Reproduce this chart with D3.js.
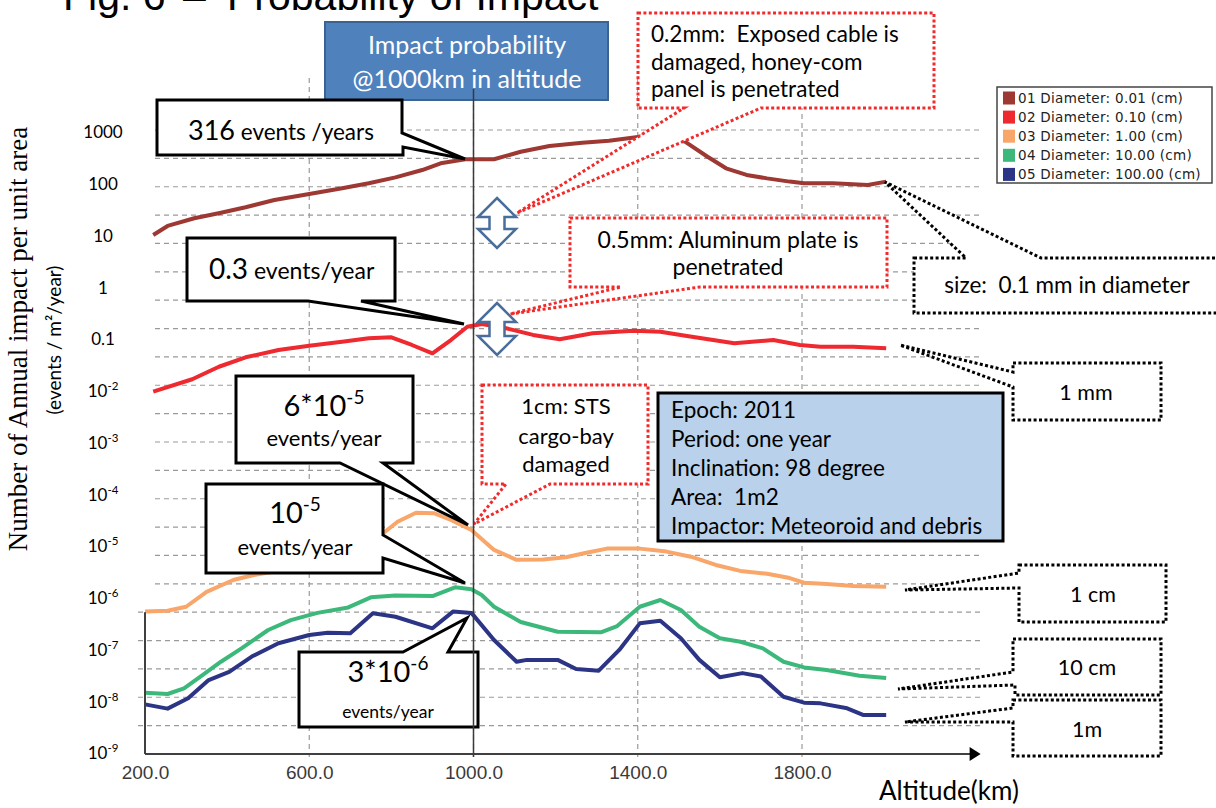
<!DOCTYPE html>
<html>
<head>
<meta charset="utf-8">
<script src="https://cdn.jsdelivr.net/npm/d3@7"></script>
<style>
  body { margin: 0; background: #fff; }
  svg { display: block; }
  text { font-family: Lato, "Open Sans", sans-serif; fill: #000; white-space: pre; }
</style>
</head>
<body>
<svg id="chart" width="1216" height="808"></svg>
<script>
// legend / series
const seriesNames = ["01 Diameter: 0.01 (cm)", "02 Diameter: 0.10 (cm)", "03 Diameter: 1.00 (cm)",
  "04 Diameter: 10.00 (cm)", "05 Diameter: 100.00 (cm)"];
const seriesColors = ["#9d3833", "#ee2a30", "#f9a66b", "#3cb87a", "#2c3585"];

// altitude (km) / annual impacts per m2
const alt01 = [220, 255, 320, 385, 445, 515, 600, 680, 745, 810, 875, 920, 980, 1050, 1115, 1185, 1265, 1330, 1405, 1455, 1515, 1570, 1615, 1665, 1715, 1770, 1805, 1875, 1960, 2005];
const val01 = [10.2, 15.3, 21.5, 27.6, 35.1, 48.5, 63.4, 81.7, 102, 133, 184, 248, 297, 297, 416, 536, 621, 679, 811, 856, 650, 333, 199, 148, 127, 110, 102, 102, 94.6, 110];

const alt02 = [220, 315, 380, 445, 525, 600, 680, 745, 800, 850, 900, 945, 985, 1020, 1080, 1145, 1210, 1290, 1390, 1455, 1520, 1635, 1730, 1795, 1845, 1925, 2005];
const val02 = [0.0096, 0.0167, 0.0291, 0.0443, 0.0613, 0.0742, 0.0886, 0.103, 0.108, 0.0766, 0.0529, 0.0956, 0.173, 0.195, 0.161, 0.120, 0.0986, 0.129, 0.145, 0.138, 0.114, 0.0825, 0.0956, 0.0766, 0.071, 0.071, 0.0661];

const alt03 = [200, 255, 300, 350, 415, 465, 575, 685, 780, 815, 860, 905, 945, 995, 1050, 1105, 1170, 1225, 1275, 1325, 1405, 1470, 1535, 1590, 1650, 1715, 1770, 1805, 1860, 1925, 2005];
const val03 = [5.4e-7, 5.6e-7, 6.7e-7, 1.3e-6, 2.2e-6, 2.75e-6, 3.9e-6, 7.3e-6, 1.76e-5, 2.95e-5, 4.4e-5, 4.28e-5, 3.18e-5, 2.04e-5, 8.4e-6, 5.4e-6, 5.5e-6, 6.05e-6, 7.4e-6, 8.9e-6, 8.9e-6, 7.8e-6, 6.05e-6, 4.3e-6, 3.3e-6, 2.9e-6, 2.4e-6, 1.95e-6, 1.84e-6, 1.69e-6, 1.64e-6];

const alt04 = [200, 255, 295, 340, 385, 435, 500, 555, 620, 695, 750, 810, 900, 955, 995, 1020, 1050, 1115, 1205, 1310, 1350, 1405, 1455, 1505, 1550, 1600, 1650, 1705, 1755, 1805, 1860, 1940, 2005];
const val04 = [1.46e-8, 1.38e-8, 1.78e-8, 3.2e-8, 5.8e-8, 1.05e-7, 2.38e-7, 3.7e-7, 5.1e-7, 6.5e-7, 1.02e-6, 1.11e-6, 1.08e-6, 1.59e-6, 1.46e-6, 1.13e-6, 6.7e-7, 3.4e-7, 2.2e-7, 2.15e-7, 2.84e-7, 6.7e-7, 9.05e-7, 5.8e-7, 2.76e-7, 1.65e-7, 1.41e-7, 1.05e-7, 5.8e-8, 4.5e-8, 4.0e-8, 3.1e-8, 2.8e-8];

const alt05 = [200, 255, 305, 355, 405, 460, 525, 600, 645, 700, 755, 810, 900, 950, 995, 1050, 1105, 1130, 1205, 1250, 1305, 1355, 1405, 1455, 1505, 1550, 1600, 1655, 1700, 1755, 1805, 1845, 1910, 1950, 2005];
const val05 = [8.7e-9, 7.2e-9, 1.14e-8, 2.57e-8, 3.7e-8, 7.3e-8, 1.32e-7, 1.91e-7, 2.11e-7, 2.06e-7, 5.0e-7, 4.3e-7, 2.57e-7, 5.4e-7, 5.1e-7, 1.53e-7, 5.8e-8, 6.3e-8, 6.3e-8, 4.2e-8, 3.9e-8, 9.8e-8, 3.2e-7, 3.6e-7, 1.65e-7, 6.3e-8, 2.9e-8, 3.5e-8, 3.0e-8, 1.22e-8, 9.4e-9, 9.1e-9, 7.3e-9, 5.4e-9, 5.4e-9];

// axis ticks
const xTickValues = [200, 600, 1000, 1400, 1800];
const yTickValues = [1e3, 1e2, 10, 1, 0.1, 1e-2, 1e-3, 1e-4, 1e-5, 1e-6, 1e-7, 1e-8, 1e-9];
const yTickLabels = [["1000", ""], ["100", ""], ["10", ""], ["1", ""], ["0.1", ""], ["10", "-2"], ["10", "-3"],
  ["10", "-4"], ["10", "-5"], ["10", "-6"], ["10", "-7"], ["10", "-8"], ["10", "-9"]];
const axisEndAlt = 2235;

const svg = d3.select("#chart");
const x = d3.scaleLinear().domain([200, 1800]).range([145, 802]);
const y = d3.scaleLog().domain([1e-9, 1e3]).range([753, 132]);
// the gridlines belong to the original plot, 22 equal steps
const gridY = d3.scaleLinear().domain([0, 22]).range([754, 130]);

const series = [alt01, alt02, alt03, alt04, alt05].map((alt, i) => ({
  name: seriesNames[i],
  color: seriesColors[i],
  points: d3.zip(alt, [val01, val02, val03, val04, val05][i])
}));

// title (cut off by the top edge, as in the slide)
const title = svg.append("text").attr("y", 10).attr("font-size", 41)
  .style("font-family", "'Liberation Sans', Arial, sans-serif");
title.append("tspan").attr("x", 63).text("Fig. 6");
title.append("tspan").attr("x", 183).text("–");
title.append("tspan").attr("x", 227).text("Probability of Impact");

// gridlines
const grid = svg.append("g").attr("stroke", "#9a9a9a").attr("stroke-width", 1.2).attr("stroke-dasharray", "5,4");
grid.selectAll("line.h").data(d3.range(1, 23)).join("line").attr("class", "h")
  .attr("x1", d => d <= 5 ? 138 : 155).attr("x2", 983)
  .attr("y1", d => gridY(d)).attr("y2", d => gridY(d));
grid.selectAll("line.v").data([600, 1000, 1400, 1800]).join("line").attr("class", "v")
  .attr("x1", d => x(d)).attr("x2", d => x(d)).attr("y1", 78).attr("y2", 757);

// series lines
const line = d3.line().x(d => x(d[0])).y(d => y(d[1]));
svg.append("g").selectAll("path").data(series).join("path")
  .attr("d", d => line(d.points)).attr("fill", "none")
  .attr("stroke", d => d.color).attr("stroke-width", 4).attr("stroke-linejoin", "round");

// axes lines
svg.append("line").attr("x1", x(200)).attr("x2", x(axisEndAlt) - 8).attr("y1", gridY(0)).attr("y2", gridY(0))
  .attr("stroke", "#404040").attr("stroke-width", 2);
svg.append("path").attr("fill", "#000")
  .attr("d", `M${x(axisEndAlt) - 11},${gridY(0) - 7}L${x(axisEndAlt)},${gridY(0)}L${x(axisEndAlt) - 11},${gridY(0) + 7}Z`);
svg.append("line").attr("x1", x(200)).attr("x2", x(200)).attr("y1", gridY(5)).attr("y2", gridY(0))
  .attr("stroke", "#404040").attr("stroke-width", 2);

// x tick labels
const xAxis = svg.append("g").attr("transform", `translate(0,${gridY(0)})`)
  .call(d3.axisBottom(x).tickValues(xTickValues).tickSize(0).tickPadding(0).tickFormat(d3.format(".1f")));
xAxis.select(".domain").remove();
xAxis.selectAll(".tick text").attr("y", 25).attr("dy", 0)
  .style("font-family", "'Liberation Sans', Arial, sans-serif").attr("font-size", 19).style("fill", "#3a3a3a");

// y tick labels
const yAxis = svg.append("g").attr("transform", "translate(103,0)")
  .call(d3.axisLeft(y).tickValues(yTickValues).tickSize(0).tickPadding(0).tickFormat(""));
yAxis.select(".domain").remove();
yAxis.selectAll(".tick text").each(function (d, i) {
  const t = d3.select(this).attr("x", 0).attr("dy", "0.35em").attr("text-anchor", "middle")
    .style("font-family", "Lato, sans-serif").attr("font-size", 17).style("fill", "#000");
  t.append("tspan").text(yTickLabels[i][0]);
  if (yTickLabels[i][1]) t.append("tspan").attr("dy", -7).attr("font-size", 11.5).text(yTickLabels[i][1]);
});

// axis titles
svg.append("text").attr("transform", "translate(27,339) rotate(-90)").attr("text-anchor", "middle")
  .style("font-family", "'Liberation Serif', 'Times New Roman', serif").attr("font-size", 27)
  .text("Number of Annual impact per unit area");
svg.append("text").attr("transform", "translate(61,340) rotate(-90)").attr("text-anchor", "middle")
  .attr("font-size", 19).text("(events / m²/year)");
svg.append("text").attr("x", 879).attr("y", 800).attr("font-size", 26).text("Altitude(km)");

// legend
const legend = svg.append("g");
legend.append("rect").attr("x", 997).attr("y", 87).attr("width", 215).attr("height", 96)
  .attr("fill", "#fff").attr("stroke", "#444").attr("stroke-width", 1.5);
const rows = legend.selectAll("g").data(series).join("g")
  .attr("transform", (d, i) => `translate(1003,${98 + i * 19.1})`);
rows.append("rect").attr("y", -6.5).attr("width", 12).attr("height", 13).attr("fill", d => d.color);
rows.append("text").attr("x", 15).attr("dy", "0.36em").style("font-family", "'DejaVu Sans', sans-serif")
  .attr("font-size", 13.5).attr("letter-spacing", 0.3).style("fill", "#222").text(d => d.name);

// callouts
function callout(pts, stroke, dashed, width) {
  svg.append("polygon").attr("points", pts.map(p => p.join(",")).join(" "))
    .attr("fill", "#fff").attr("stroke", stroke).attr("stroke-width", width || 3)
    .attr("stroke-dasharray", dashed ? "3,2.4" : null).attr("stroke-linejoin", "miter");
}
function label(xp, yp, parts, anchor) {
  const t = svg.append("text").attr("x", xp).attr("y", yp).attr("text-anchor", anchor || "start");
  parts.forEach(p => {
    const s = t.append("tspan").attr("font-size", p.size).text(p.t);
    if (p.dy) s.attr("dy", p.dy);
  });
  return t;
}
function lines(xp, ys, strs, size, anchor) {
  strs.forEach((s, i) => label(xp, ys[i], [{ t: s, size: size }], anchor));
}

const red = "#f22a2a";

// blue header box
svg.append("rect").attr("x", 325).attr("y", 22).attr("width", 283).attr("height", 78)
  .attr("fill", "#4f81bd").attr("stroke", "#3a6392").attr("stroke-width", 2);
svg.append("text").attr("x", 467).attr("y", 54).attr("text-anchor", "middle").attr("font-size", 25)
  .style("fill", "#fff").text("Impact probability");
svg.append("text").attr("x", 467).attr("y", 88).attr("text-anchor", "middle").attr("font-size", 25)
  .style("fill", "#fff").text("@1000km in altitude");

// 316 events
callout([[157, 100], [402, 100], [402, 133], [465, 159], [403, 147], [403, 155], [157, 155]], "#000");
label(188, 140, [{ t: "316", size: 27 }, { t: " events /years", size: 22.5 }]);

// 0.2mm
callout([[638, 13], [934, 13], [934, 108], [761, 108], [517, 213], [684, 108], [638, 108]], red, true);
lines(651, [42, 69.5, 97], ["0.2mm:  Exposed cable is", "damaged, honey-com", "panel is penetrated"], 22.5);

// double arrows
function dblArrow(cx, top, bottom) {
  const hw = 19, sw = 7.5, hh = 19;
  const pts = [[cx, top], [cx + hw, top + hh], [cx + sw, top + hh], [cx + sw, bottom - hh], [cx + hw, bottom - hh],
    [cx, bottom], [cx - hw, bottom - hh], [cx - sw, bottom - hh], [cx - sw, top + hh], [cx - hw, top + hh]];
  svg.append("polygon").attr("points", pts.map(p => p.join(",")).join(" "))
    .attr("fill", "#fff").attr("stroke", "#4a6e9c").attr("stroke-width", 2.5);
}
dblArrow(497, 198, 248);
dblArrow(497, 303, 355);

// 0.5mm
callout([[570, 218], [887, 218], [887, 287], [700, 287], [510, 314], [621, 287], [570, 287]], red, true);
lines(728, [248, 275], ["0.5mm: Aluminum plate is", "penetrated"], 23, "middle");

// 0.3 events
callout([[187, 238], [395, 238], [395, 301], [361, 301], [464, 324], [308, 301], [187, 301]], "#000");
label(209, 279, [{ t: "0.3", size: 28 }, { t: " events/year", size: 23 }]);

// 1cm STS
callout([[482, 385], [648, 385], [648, 484], [550, 484], [474, 524], [506, 484], [482, 484]], red, true);
lines(566, [414, 444, 472], ["1cm: STS", "cargo-bay", "damaged"], 22, "middle");

// 6*10-5
callout([[236, 376], [413, 376], [413, 463], [383, 463], [468, 525], [340, 463], [236, 463]], "#000");
label(324, 416, [{ t: "6*10", size: 29 }, { t: "-5", size: 19, dy: -12 }], "middle");
label(324, 446, [{ t: "events/year", size: 22 }], "middle");

// 10-5
callout([[206, 484], [383, 484], [383, 535], [465, 583], [383, 558], [383, 573], [206, 573]], "#000");
label(295, 523, [{ t: "10", size: 29 }, { t: "-5", size: 19, dy: -12 }], "middle");
label(295, 555, [{ t: "events/year", size: 22 }], "middle");

// 3*10-6
callout([[299, 652], [403, 652], [467, 618], [448, 652], [478, 652], [478, 727], [299, 727]], "#000");
label(388, 682, [{ t: "3*10", size: 29 }, { t: "-6", size: 19, dy: -12 }], "middle");
label(388, 718, [{ t: "events/year", size: 17.5 }], "middle");

// info box
svg.append("rect").attr("x", 658).attr("y", 393).attr("width", 345).attr("height", 148)
  .attr("fill", "#b9d1ea").attr("stroke", "#000").attr("stroke-width", 3);
lines(671, [418, 447, 476, 505, 534], ["Epoch: 2011", "Period: one year", "Inclination: 98 degree",
  "Area:  1m2", "Impactor: Meteoroid and debris"], 22.5);

// size callouts on the right
callout([[914, 258], [966, 258], [885, 182], [1041, 258], [1230, 258], [1230, 313], [914, 313]], "#000", true);
lines(1067, [293], ["size:  0.1 mm in diameter"], 22.5, "middle");
callout([[1013, 363], [1161, 363], [1161, 420], [1013, 420], [1013, 387], [900, 345], [1013, 372]], "#000", true);
lines(1086, [400], ["1 mm"], 21.5, "middle");
callout([[1019, 565], [1166, 565], [1166, 622], [1019, 622], [1019, 588], [905, 590], [1019, 573]], "#000", true);
lines(1093, [602], ["1 cm"], 21.5, "middle");
callout([[1013, 639], [1161, 639], [1161, 695], [1015, 695], [1015, 685], [898, 689], [1013, 672]], "#000", true);
lines(1087, [675], ["10 cm"], 21.5, "middle");
callout([[1013, 700], [1161, 700], [1161, 756], [1013, 756], [1013, 722], [905, 722], [1013, 708]], "#000", true);
lines(1087, [737], ["1m"], 21.5, "middle");

// 1000 km marker line
svg.append("line").attr("x1", x(1000)).attr("x2", x(1000)).attr("y1", 89).attr("y2", 757)
  .attr("stroke", "#3a3a3a").attr("stroke-width", 1.5);
</script>
</body>
</html>
